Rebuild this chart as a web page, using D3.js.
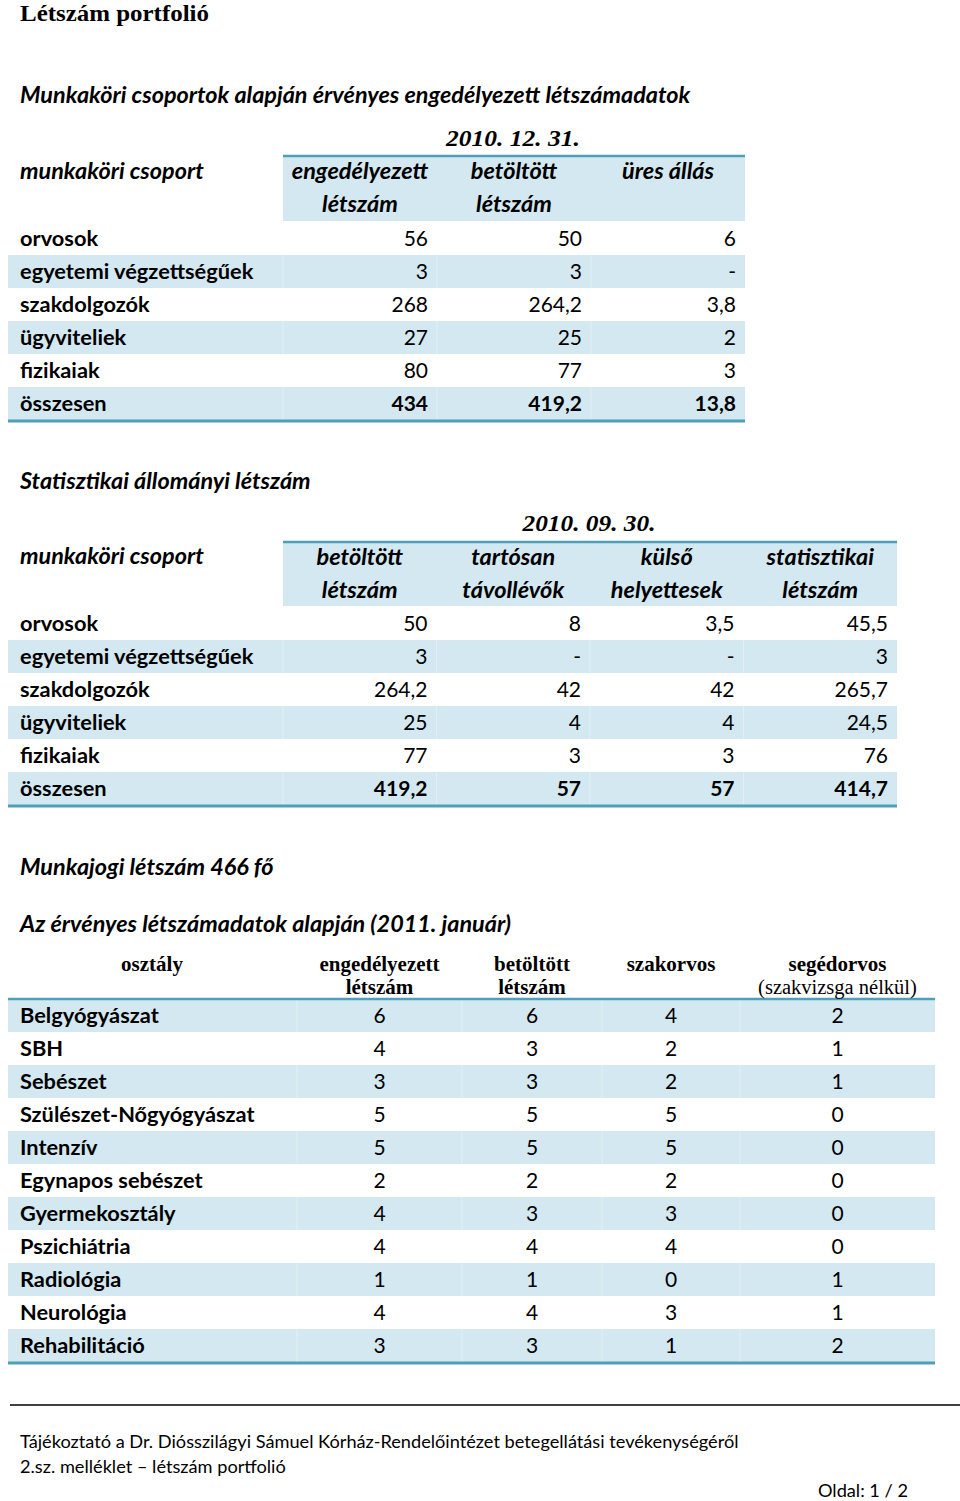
<!DOCTYPE html>
<html><head><meta charset="utf-8">
<script src="https://cdn.jsdelivr.net/npm/d3@7"></script>
<style>
html,body{margin:0;padding:0;background:#fff;}
svg{display:block;}
</style></head>
<body>
<script>
// ---------- DATA ----------
const pageTitle = "Létszám portfolió";

const t1Title = "Munkaköri csoportok alapján érvényes engedélyezett létszámadatok";
const t1Date = "2010. 12. 31.";
const t1Categories = ["orvosok","egyetemi végzettségűek","szakdolgozók","ügyviteliek","fizikaiak","összesen"];
const t1Headers = [["engedélyezett","létszám"],["betöltött","létszám"],["üres állás"]];
const t1Engedelyezett = [56, 3, 268, 27, 80, 434];
const t1Betoltott = [50, 3, 264.2, 25, 77, 419.2];
const t1Ures = [6, null, 3.8, 2, 3, 13.8];

const t2Title = "Statisztikai állományi létszám";
const t2Date = "2010. 09. 30.";
const t2Categories = ["orvosok","egyetemi végzettségűek","szakdolgozók","ügyviteliek","fizikaiak","összesen"];
const t2Headers = [["betöltött","létszám"],["tartósan","távollévők"],["külső","helyettesek"],["statisztikai","létszám"]];
const t2Betoltott = [50, 3, 264.2, 25, 77, 419.2];
const t2Tartosan = [8, null, 42, 4, 3, 57];
const t2Kulso = [3.5, null, 42, 4, 3, 57];
const t2Statisztikai = [45.5, 3, 265.7, 24.5, 76, 414.7];

const noteMunkajogi = "Munkajogi létszám 466 fő";
const t3Title = "Az érvényes létszámadatok alapján (2011. január)";
const t3LabelHeader = "osztály";
const t3Headers = [["engedélyezett","létszám"],["betöltött","létszám"],["szakorvos"],["segédorvos","(szakvizsga nélkül)"]];
const t3Categories = ["Belgyógyászat","SBH","Sebészet","Szülészet-Nőgyógyászat","Intenzív","Egynapos sebészet","Gyermekosztály","Pszichiátria","Radiológia","Neurológia","Rehabilitáció"];
const t3Engedelyezett = [6, 4, 3, 5, 5, 2, 4, 4, 1, 4, 3];
const t3Betoltott = [6, 3, 3, 5, 5, 2, 3, 4, 1, 4, 3];
const t3Szakorvos = [4, 2, 2, 5, 5, 2, 3, 4, 0, 3, 1];
const t3Segedorvos = [2, 1, 1, 0, 0, 0, 0, 0, 1, 1, 2];

const footerLines = ["Tájékoztató a Dr. Diósszilágyi Sámuel Kórház-Rendelőintézet betegellátási tevékenységéről","2.sz. melléklet – létszám portfolió"];
const pageLabel = "Oldal: 1 / 2";

// ---------- STYLE ----------
const W = 960, H = 1501;
const BAND = "#d3e8f0", LINE = "#4f9fb9";
const SANS = "Lato, 'Open Sans', sans-serif";
const SERIF = "'Liberation Serif', 'DejaVu Serif', serif";
const fmt = v => v == null ? "-" : String(v).replace(".", ",");

const SECTION = 23.4, HEAD = 23.5, LABEL = 21.8, VALUE = 21, FOOT = 18.2;

const svg = d3.select("body").append("svg").attr("width", W).attr("height", H);

function txt(x, y, s, o) {
  o = o || {};
  const t = svg.append("text").attr("x", x).attr("y", y).text(s)
    .attr("font-family", o.family || SANS)
    .attr("font-size", o.size || 20)
    .attr("font-weight", o.weight || "normal")
    .attr("font-style", o.style || "normal")
    .attr("text-anchor", o.anchor || "start")
    .attr("fill", o.fill || "#000");
  if (o.len) t.attr("textLength", o.len).attr("lengthAdjust", "spacingAndGlyphs");
  return t;
}

// Title
txt(20, 21, pageTitle, {family: SERIF, size: 24, weight: "bold", len: 189});

// ---------- generic table ----------
function drawTable(cfg) {
  const rowH = 33;
  const y = d3.scaleBand().domain(cfg.categories).range([cfg.rowTop, cfg.rowTop + rowH * cfg.categories.length]);
  const cols = cfg.headers.map((d, i) => i);
  const x = d3.scaleBand().domain(cols).range([cfg.colLeft, cfg.colRight]);

  svg.append("rect").attr("x", cfg.colLeft).attr("y", cfg.headTop)
    .attr("width", cfg.colRight - cfg.colLeft).attr("height", cfg.rowTop - cfg.headTop - 1).attr("fill", BAND);

  svg.selectAll(null).data(cfg.categories.filter((d, i) => i % 2 === 1)).enter()
    .append("rect").attr("x", cfg.left).attr("y", d => y(d)).attr("width", cfg.right - cfg.left)
    .attr("height", y.bandwidth()).attr("fill", BAND);

  const seps = [cfg.colLeft].concat(cols.slice(1).map(c => x(c)));
  cfg.categories.forEach((c, i) => {
    if (i % 2 !== 1) return;
    seps.forEach(sx => svg.append("line").attr("x1", sx).attr("x2", sx).attr("y1", y(c)).attr("y2", y(c) + y.bandwidth())
      .attr("stroke", "#e2f0f5").attr("stroke-width", 1));
  });

  svg.append("line").attr("x1", cfg.colLeft).attr("x2", cfg.right).attr("y1", cfg.headTop).attr("y2", cfg.headTop)
    .attr("stroke", LINE).attr("stroke-width", 2.5);
  const by = cfg.rowTop + rowH * cfg.categories.length + 1;
  svg.append("line").attr("x1", cfg.left).attr("x2", cfg.right).attr("y1", by).attr("y2", by)
    .attr("stroke", LINE).attr("stroke-width", 3);

  cfg.headers.forEach((h, i) => {
    h.forEach((line, j) => {
      txt(x(i) + x.bandwidth() / 2, cfg.headY[j], line, {anchor: "middle", size: HEAD, style: "italic", weight: "bold"});
    });
  });

  cfg.categories.forEach((c, r) => {
    const isTotal = r === cfg.categories.length - 1;
    const b = y(c) + y.bandwidth() / 2 + 7.5;
    txt(20, b, c, {size: LABEL, weight: "bold"});
    cfg.series.forEach((s, i) => {
      txt(x(i) + x.bandwidth() - 9, b, fmt(s[r]), {size: VALUE, anchor: "end", weight: isTotal ? "bold" : "normal"});
    });
  });
}

// ---------- Table 1 ----------
txt(20, 103, t1Title, {size: SECTION, weight: "bold", style: "italic"});
txt(513, 146, t1Date, {family: SERIF, size: 24, style: "italic", weight: "bold", anchor: "middle", len: 134});
txt(20, 179, "munkaköri csoport", {size: SECTION, style: "italic", weight: "bold"});
drawTable({
  categories: t1Categories, headers: t1Headers,
  series: [t1Engedelyezett, t1Betoltott, t1Ures],
  left: 8, right: 745, colLeft: 283, colRight: 745,
  headTop: 156, rowTop: 222, headY: [179, 212]
});

// ---------- Table 2 ----------
txt(20, 489, t2Title, {size: SECTION, weight: "bold", style: "italic"});
txt(589, 531, t2Date, {family: SERIF, size: 24, style: "italic", weight: "bold", anchor: "middle", len: 133});
txt(20, 564, "munkaköri csoport", {size: SECTION, style: "italic", weight: "bold"});
drawTable({
  categories: t2Categories, headers: t2Headers,
  series: [t2Betoltott, t2Tartosan, t2Kulso, t2Statisztikai],
  left: 8, right: 897, colLeft: 283, colRight: 897,
  headTop: 542, rowTop: 607, headY: [565, 598]
});

// ---------- notes ----------
txt(20, 875, noteMunkajogi, {size: SECTION, weight: "bold", style: "italic"});
txt(20, 932, t3Title, {size: SECTION, weight: "bold", style: "italic"});

// ---------- Table 3 ----------
txt(152, 971, t3LabelHeader, {family: SERIF, size: 21, weight: "bold", anchor: "middle"});
(function () {
  const rowH = 33, rowTop = 999, left = 8, right = 935;
  const y = d3.scaleBand().domain(t3Categories).range([rowTop, rowTop + rowH * t3Categories.length]);
  const colEdges = d3.scaleOrdinal().domain([0, 1, 2, 3, 4]).range([297, 462, 602, 740, 935]);
  const series = [t3Engedelyezett, t3Betoltott, t3Szakorvos, t3Segedorvos];

  svg.selectAll(null).data(t3Categories.filter((d, i) => i % 2 === 0)).enter()
    .append("rect").attr("x", left).attr("y", d => y(d)).attr("width", right - left)
    .attr("height", y.bandwidth()).attr("fill", BAND);
  t3Categories.forEach((c, i) => {
    if (i % 2) return;
    [297, 462, 602, 740].forEach(sx => svg.append("line").attr("x1", sx).attr("x2", sx)
      .attr("y1", y(c)).attr("y2", y(c) + y.bandwidth()).attr("stroke", "#e2f0f5"));
  });
  svg.append("line").attr("x1", left).attr("x2", right).attr("y1", rowTop).attr("y2", rowTop)
    .attr("stroke", LINE).attr("stroke-width", 2.5);
  const by = rowTop + rowH * t3Categories.length + 1;
  svg.append("line").attr("x1", left).attr("x2", right).attr("y1", by).attr("y2", by)
    .attr("stroke", LINE).attr("stroke-width", 3);

  t3Headers.forEach((h, i) => {
    const cx = (colEdges(i) + colEdges(i + 1)) / 2;
    h.forEach((line, j) => {
      const sub = (i === 3 && j === 1);
      txt(cx, [971, 994][j], line, {family: SERIF, size: sub ? 20.5 : 21, weight: sub ? "normal" : "bold", anchor: "middle"});
    });
  });
  t3Categories.forEach((c, r) => {
    const b = y(c) + y.bandwidth() / 2 + 7.5;
    txt(20, b, c, {size: LABEL, weight: "bold"});
    series.forEach((s, i) => {
      const cx = (colEdges(i) + colEdges(i + 1)) / 2;
      txt(cx, b, fmt(s[r]), {size: VALUE, anchor: "middle"});
    });
  });
})();

// ---------- footer ----------
svg.append("line").attr("x1", 10).attr("x2", 960).attr("y1", 1405).attr("y2", 1405).attr("stroke", "#000").attr("stroke-width", 1.5);
txt(20, 1448, footerLines[0], {size: FOOT});
txt(20, 1473, footerLines[1], {size: FOOT});
txt(908, 1497, pageLabel, {size: FOOT, anchor: "end"});
</script>
</body></html>
